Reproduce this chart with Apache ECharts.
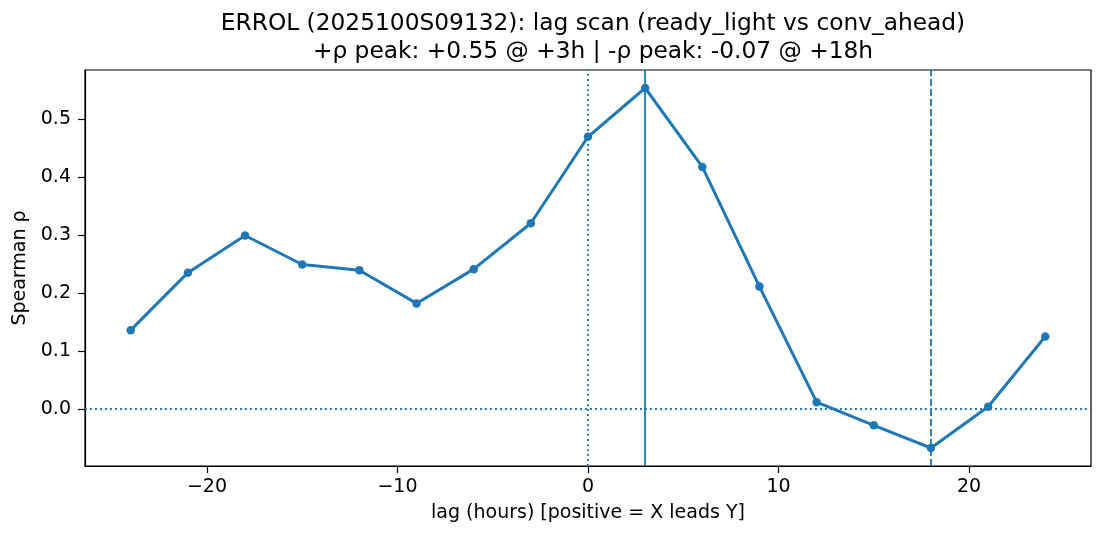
<!DOCTYPE html>
<html><head><meta charset="utf-8">
<script src="https://cdn.jsdelivr.net/npm/echarts@6/dist/echarts.min.js"></script>
<style>html,body{margin:0;padding:0;background:#fff}#c{width:1105px;height:540px}</style>
</head><body><div id="c"></div>
<script>
const lags = [-24,-21,-18,-15,-12,-9,-6,-3,0,3,6,9,12,15,18,21,24];
const rho = [0.136,0.235,0.299,0.249,0.239,0.182,0.241,0.320,0.469,0.553,0.417,0.211,0.012,-0.028,-0.067,0.004,0.125];
const xTicks = [-20,-10,0,10,20];
const yTicks = [0.0,0.1,0.2,0.3,0.4,0.5];
const titleLines = ['ERROL (2025100S09132): lag scan (ready_light vs conv_ahead)','+ρ peak: +0.55 @ +3h | -ρ peak: -0.07 @ +18h'];
const xName = 'lag (hours) [positive = X leads Y]';
const yName = 'Spearman ρ';
const zeroLag = 0, posPeakLag = 3, negPeakLag = 18, zeroRho = 0;

const C = '#1f77b4';
const F = 'DejaVu Sans';
const chart = echarts.init(document.getElementById('c'), null, {renderer:'canvas'});
const fmtX = v => (v < 0 ? '\u2212' + Math.abs(v) : String(v));
chart.setOption({
  animation:false,
  backgroundColor:'#fff',
  title:{text:titleLines.join('\n'), left:588, top:5, textAlign:'center',
    textStyle:{fontFamily:F, fontSize:23.3, fontWeight:'normal', color:'#000', lineHeight:28}},
  grid:{left:85, right:14, top:70, bottom:74, show:true, borderColor:'#000', borderWidth:1.2, backgroundColor:'transparent'},
  xAxis:{type:'value', min:-26.4, max:26.4,
    name:xName, nameLocation:'middle', nameGap:38,
    nameTextStyle:{fontFamily:F, fontSize:19, color:'#000'},
    axisLine:{show:true, onZero:false, lineStyle:{color:'#000', width:1.2}},
    axisTick:{show:true, customValues:xTicks, length:7, lineStyle:{color:'#000', width:1.2}},
    axisLabel:{customValues:xTicks, formatter:fmtX, fontFamily:F, fontSize:19, color:'#000', margin:12},
    splitLine:{show:false}},
  yAxis:{type:'value', min:-0.098, max:0.584,
    name:yName, nameLocation:'middle', nameGap:53, nameRotate:90,
    nameTextStyle:{fontFamily:F, fontSize:19, color:'#000'},
    axisLine:{show:true, onZero:false, lineStyle:{color:'#000', width:1.2}},
    axisTick:{show:true, customValues:yTicks, length:7, lineStyle:{color:'#000', width:1.2}},
    axisLabel:{customValues:yTicks, formatter:v=>v.toFixed(1), fontFamily:F, fontSize:19, color:'#000', margin:14},
    splitLine:{show:false}},
  series:[{
    type:'line', data:lags.map((x,i)=>[x,rho[i]]),
    symbol:'circle', symbolSize:8.5, showSymbol:true,
    lineStyle:{color:C, width:3}, itemStyle:{color:C},
    z:3,
    markLine:{silent:true, symbol:'none', animation:false, label:{show:false},
      data:[
        {xAxis:zeroLag, lineStyle:{color:C, width:1.8, type:[1.9,3.1], opacity:1}},
        {xAxis:posPeakLag, lineStyle:{color:C, width:1.8, type:'solid', opacity:1}},
        {xAxis:negPeakLag, lineStyle:{color:C, width:1.8, type:[7,3], opacity:1}},
        {yAxis:zeroRho, lineStyle:{color:C, width:1.8, type:[1.9,3.1], opacity:1}}
      ]}
  }]
});
</script></body></html>
